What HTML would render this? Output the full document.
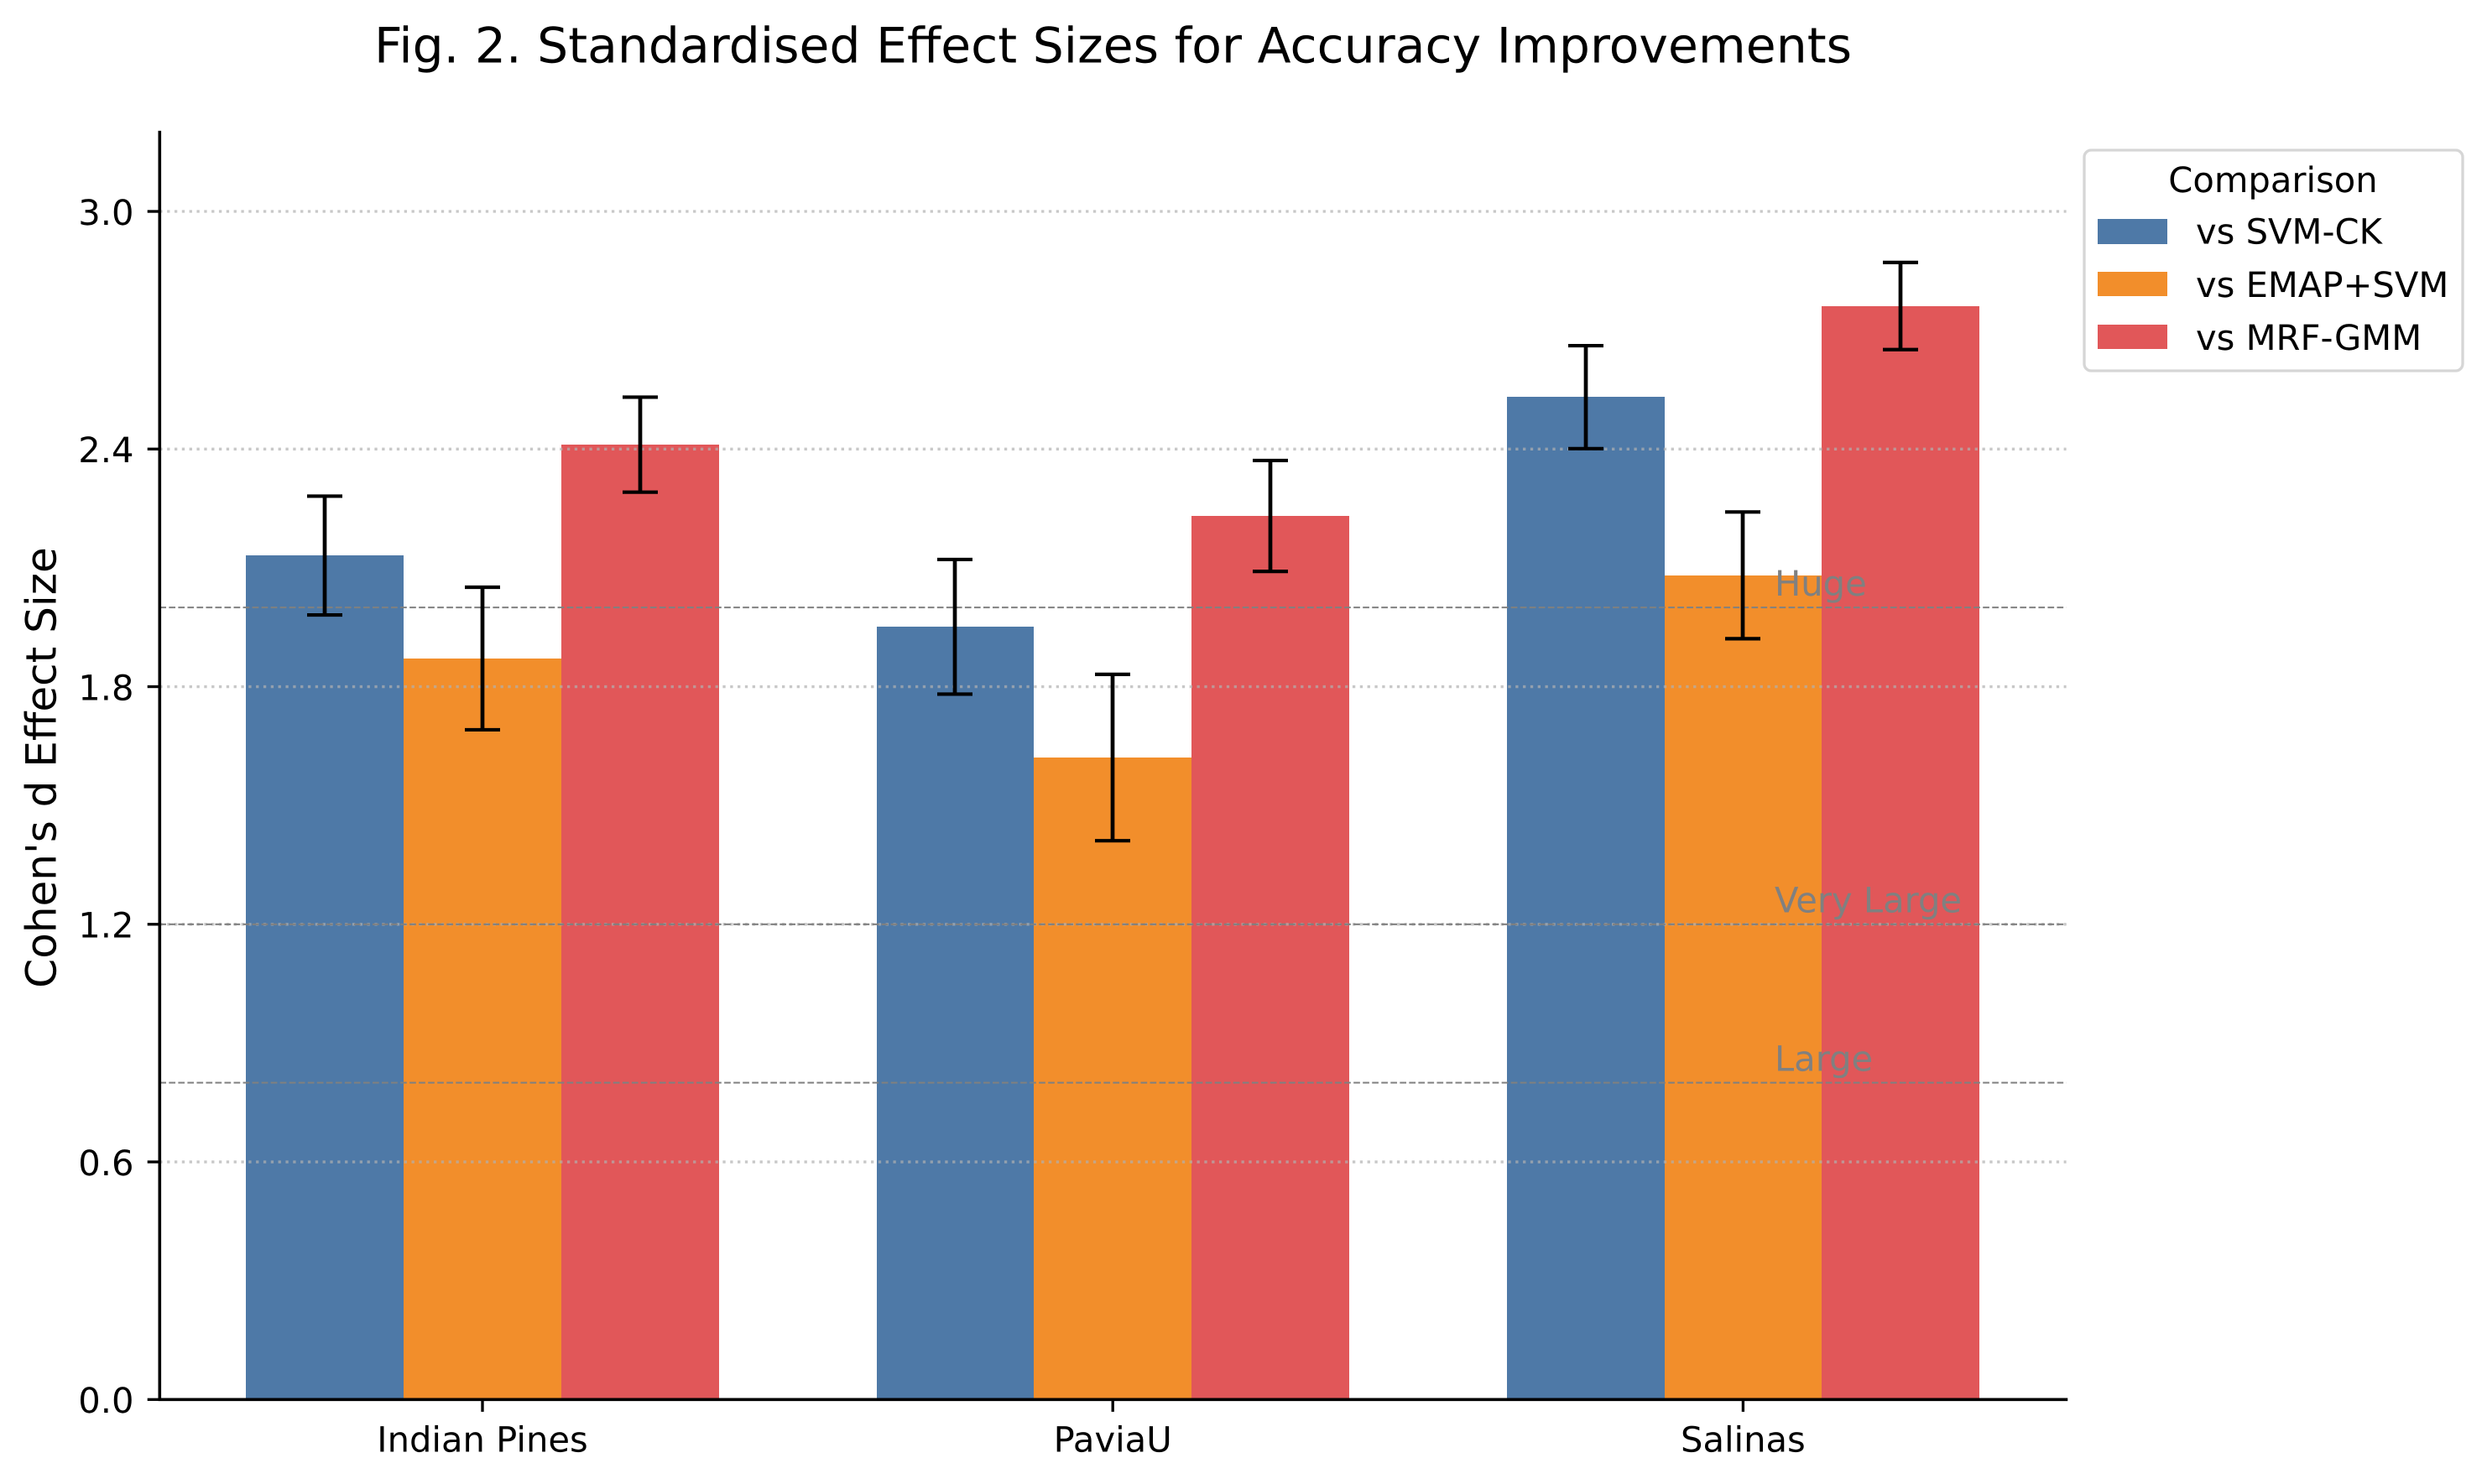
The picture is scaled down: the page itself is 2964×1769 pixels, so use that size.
<!DOCTYPE html>
<html lang="en">
<head>
<meta charset="utf-8">
<title>Fig. 2. Standardised Effect Sizes for Accuracy Improvements</title>
<style>
html,body{margin:0;padding:0;background:#fff;width:2964px;height:1769px;overflow:hidden}
svg{display:block}
text{font-family:"DejaVu Sans","Liberation Sans",sans-serif;text-rendering:geometricPrecision}
</style>
</head>
<body>
<svg id="chart" xmlns="http://www.w3.org/2000/svg" width="2964" height="1769" viewBox="0 0 2964 1769">
<rect x="0" y="0" width="2964" height="1769" fill="#ffffff"/>
<text x="1326.5" y="74.5" font-size="58.33" text-anchor="middle" textLength="1761" lengthAdjust="spacing" fill="#000">Fig. 2. Standardised Effect Sizes for Accuracy Improvements</text>
<text transform="translate(66.5 915) rotate(-90)" font-size="50" text-anchor="middle" fill="#000">Cohen's d Effect Size</text>
<g id="bars"></g>
<g id="gridtop"></g>
<g id="refs"></g>
<g id="errs"></g>
<g id="axes"></g>
<g id="legend">
<rect x="2484" y="179" width="451" height="263" rx="8.3" ry="8.3" fill="#fff" fill-opacity="0.8" stroke="#d6d6d6" stroke-width="3.33"/>
<text x="2709" y="229" font-size="41.67" text-anchor="middle" fill="#000">Comparison</text>
<g>
<rect x="2500" y="261" width="83" height="30" fill="#4e79a7"/>
<text x="2617" y="290.7" font-size="41.67" fill="#000">vs SVM-CK</text>
</g>
<g>
<rect x="2500" y="324" width="83" height="29" fill="#f28e2b"/>
<text x="2617" y="354" font-size="41.67" fill="#000">vs EMAP+SVM</text>
</g>
<g>
<rect x="2500" y="387" width="83" height="29" fill="#e15759"/>
<text x="2617" y="417" font-size="41.67" fill="#000">vs MRF-GMM</text>
</g>
</g>
</svg>
<script>
const categories = ["Indian Pines", "PaviaU", "Salinas"];
const seriesNames = ["svm-ck", "emap-svm", "mrf-gmm"];
const svmCkValues = [2.13, 1.95, 2.53];
const emapSvmValues = [1.87, 1.62, 2.08];
const mrfGmmValues = [2.41, 2.23, 2.76];
const svmCkErrLow = [1.98, 1.78, 2.40];
const svmCkErrHigh = [2.28, 2.12, 2.66];
const emapSvmErrLow = [1.69, 1.41, 1.92];
const emapSvmErrHigh = [2.05, 1.83, 2.24];
const mrfGmmErrLow = [2.29, 2.09, 2.65];
const mrfGmmErrHigh = [2.53, 2.37, 2.87];
const yTicks = [0, 0.6, 1.2, 1.8, 2.4, 3.0];
const thresholdValues = [0.8, 1.2, 2.0];
const thresholdLabels = ["Large", "Very Large", "Huge"];
const thresholdLabelValues = [0.83, 1.23, 2.03];
const thresholdLabelPosition = 2.05;
const barWidthUnits = 0.25;
const yMax = 3.2;

const seriesValues = [svmCkValues, emapSvmValues, mrfGmmValues];
const seriesLow = [svmCkErrLow, emapSvmErrLow, mrfGmmErrLow];
const seriesHigh = [svmCkErrHigh, emapSvmErrHigh, mrfGmmErrHigh];
const seriesColors = ["#4e79a7", "#f28e2b", "#e15759"];

const plot = {left: 190.3, right: 2462.6, top: 157.6, bottom: 1668.3};
const xUnit = 751.2, xZero = 575;
function xScale(v) { return xZero + v * xUnit; }
function yScale(v) { return plot.bottom - v / yMax * (plot.bottom - plot.top); }

const NS = "http://www.w3.org/2000/svg";
function make(parent, tag) {
  const el = document.createElementNS(NS, tag);
  parent.appendChild(el);
  return el;
}
function setLine(el, x1, y1, x2, y2, color, width) {
  el.setAttribute("x1", x1);
  el.setAttribute("y1", y1);
  el.setAttribute("x2", x2);
  el.setAttribute("y2", y2);
  el.setAttribute("stroke", color);
  el.setAttribute("stroke-width", width);
}

const barsG = document.getElementById("bars");
const gridTopG = document.getElementById("gridtop");
const refsG = document.getElementById("refs");
const errsG = document.getElementById("errs");
const axesG = document.getElementById("axes");

seriesValues.forEach(function (values, s) {
  values.forEach(function (v, c) {
    const center = c + (s - 1) * barWidthUnits;
    const x0 = Math.round(xScale(center - barWidthUnits / 2));
    const x1 = Math.round(xScale(center + barWidthUnits / 2));
    const yTop = Math.floor(yScale(v));
    const bar = make(barsG, "rect");
    
    
    bar.setAttribute("x", x0);
    bar.setAttribute("y", yTop);
    bar.setAttribute("width", x1 - x0);
    bar.setAttribute("height", Math.round(plot.bottom) - yTop);
    bar.setAttribute("fill", seriesColors[s]);
  });
});

yTicks.forEach(function (t) {
  const y = yScale(t);
  const g = make(gridTopG, "line");
  
  
  setLine(g, plot.left, y, plot.right, y, "#b0b0b0", 3.33);
  g.setAttribute("stroke-opacity", "0.7");
  g.setAttribute("stroke-dasharray", "3.33 5.5");
});

thresholdValues.forEach(function (t, i) {
  const y = yScale(t);
  const line = make(refsG, "line");
  
  
  setLine(line, plot.left, y, plot.right, y, "#808080", 2.08);
  line.setAttribute("stroke-dasharray", "7.7 3.33");
  const label = make(refsG, "text");
  
  
  label.setAttribute("x", xScale(thresholdLabelPosition));
  label.setAttribute("y", yScale(thresholdLabelValues[i]));
  label.setAttribute("font-size", "41.67");
  label.setAttribute("fill", "#808080");
  label.textContent = thresholdLabels[i];
});

seriesValues.forEach(function (values, s) {
  values.forEach(function (v, c) {
    const center = c + (s - 1) * barWidthUnits;
    const x = Math.round(xScale(center));
    const yHi = yScale(seriesHigh[s][c]) - 0.5;
    const yLo = yScale(seriesLow[s][c]) - 0.5;
    const key = seriesNames[s] + "-" + categories[c].toLowerCase().replace(" ", "-");
    const g = make(errsG, "g");
    
    
    const stem = make(g, "line");
    
    
    setLine(stem, x, yHi, x, yLo, "#000", 4.7);
    const capTop = make(g, "line");
    
    
    setLine(capTop, x - 21, yHi, x + 21, yHi, "#000", 4.17);
    const capBottom = make(g, "line");
    
    
    setLine(capBottom, x - 21, yLo, x + 21, yLo, "#000", 4.17);
  });
});

const spineLeft = make(axesG, "line");


setLine(spineLeft, plot.left, plot.top - 1.67, plot.left, plot.bottom + 1.67, "#000", 3.6);

const spineBottom = make(axesG, "line");


setLine(spineBottom, plot.left - 1.67, plot.bottom, plot.right + 1.67, plot.bottom, "#000", 3.6);

yTicks.forEach(function (t) {
  const y = yScale(t);
  const tick = make(axesG, "line");
  
  
  setLine(tick, plot.left - 14.6, y, plot.left, y, "#000", 3.33);
  const label = make(axesG, "text");
  
  
  label.setAttribute("x", 159.5);
  label.setAttribute("y", y + 15.8);
  label.setAttribute("font-size", "41.67");
  label.setAttribute("text-anchor", "end");
  label.setAttribute("fill", "#000");
  label.textContent = t.toFixed(1);
});

categories.forEach(function (name, c) {
  const x = xScale(c);
  const tick = make(axesG, "line");
  
  
  setLine(tick, x, plot.bottom, x, plot.bottom + 14.6, "#000", 3.33);
  const label = make(axesG, "text");
  
  
  label.setAttribute("x", x);
  label.setAttribute("y", 1730.7);
  label.setAttribute("font-size", "41.67");
  label.setAttribute("text-anchor", "middle");
  label.setAttribute("fill", "#000");
  label.textContent = name;
});
</script>
</body>
</html>
